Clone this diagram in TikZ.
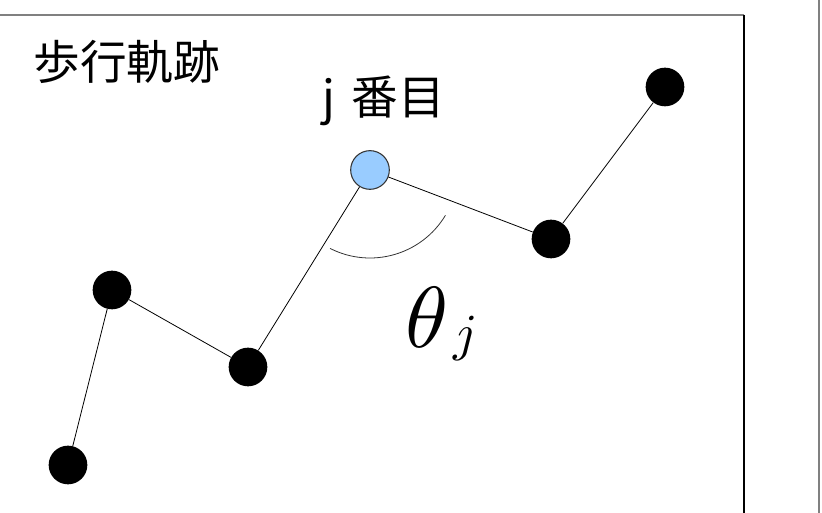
\documentclass[tikz,border=0pt]{standalone}
\usepackage{graphicx}
\usepackage{fontspec}
\newfontfamily\jafont{Noto Sans CJK JP}
\definecolor{jblue}{HTML}{99CCFF}
\begin{document}
\begin{tikzpicture}[x=0.75pt, y=0.75pt, font=\jafont\fontsize{35}{40}\selectfont,
		stepdot/.style={circle, fill=black, inner sep=0pt, minimum size=29pt},
		jdot/.style={circle, fill=jblue, draw=black!80, line width=0.8pt, inner sep=0pt, minimum size=29pt}]
		\useasboundingbox (0,0) rectangle (822,513);
		\draw[black!50, line width=1pt] (0,498) -- (744,498);
		\draw[line width=0.8pt] (744,498) -- (744,0);
		\draw[black!50, line width=1pt] (819,0) -- (819,513);
		\foreach \n/\x/\y in {p1/68/48,p2/112/223,p3/248/146,p5/551/274,p6/665/426} \node[stepdot] (\n) at (\x,\y) {};
		\node[jdot] (p4) at (370,343) {};
		\draw[line width=0.6pt] (p1) -- (p2) -- (p3) -- (p4) -- (p5) -- (p6);
		\draw[line width=0.6pt, black!80] (p4.center) ++(243:88) arc[start angle=243, end angle=329, radius=88];
		\node (title) at (127,451) {歩行軌跡};
		\node (jth) at (384,412) {j\hspace{0.35em}番目};
		\node[font=\fontsize{10}{12}\selectfont, anchor=base west, inner sep=0pt] (theta) at (405,165) {\scalebox{6.5}{$\theta$}\hspace{4pt}\raisebox{-2pt}{\scalebox{3.9}{$j$}}};
	\end{tikzpicture}
\end{document}
